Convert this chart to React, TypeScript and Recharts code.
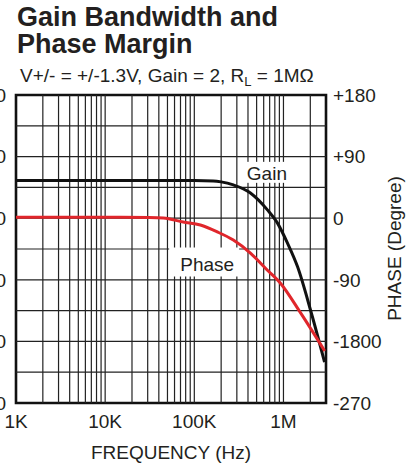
import React from 'react';
import { LineChart, Line, XAxis, YAxis, ReferenceLine, ReferenceArea, ReferenceDot } from 'recharts';

const FONT = '"Liberation Sans", Arial, Helvetica, sans-serif';
const INK = '#231f20';

// Gain (dB) curve
const gainFreq = [1000, 10000, 100000, 163000, 200000, 274000, 426000, 661000, 857000, 1110000, 1440000, 2010000, 2890000];
const gainDb = [32.2, 32.2, 32.2, 32.1, 31.8, 30.8, 28.2, 22.7, 18.4, 11.9, 4.2, -9.8, -26.7];

// Phase (degree) curve
const phaseFreq = [1000, 10000, 31000, 45000, 75000, 117000, 181000, 274000, 426000, 661000, 925000, 1550000, 2900000];
const phaseDeg = [1.5, 1.5, 1.0, 0.3, -5.6, -10, -20, -32, -51, -76, -95, -138, -194];

const freqTicks = [1000, 10000, 100000, 1000000];
const freqTickLabels = ['1K', '10K', '100K', '1M'];
const gridFreqs = [
  2000, 3000, 4000, 5000, 6000, 7000, 8000, 9000, 10000,
  20000, 30000, 40000, 50000, 60000, 70000, 80000, 90000, 100000,
  200000, 300000, 400000, 500000, 600000, 700000, 800000, 900000, 1000000,
  2000000,
];
const phaseTicks = [-270, -180, -90, 0, 90, 180];
const phaseTickLabels = ['-270', '-1800', '-90', '0', '+90', '+180'];
const phaseGrid = [-225, -180, -135, -90, -45, 0, 45, 90, 135];
const gainTicks = [-40, -20, 0, 20, 40, 60];

const gainData = gainFreq.map((f, i) => ({ f, v: gainDb[i] }));
const phaseData = phaseFreq.map((f, i) => ({ f, v: phaseDeg[i] }));

const boxLabel = (text: string, w: number, h: number, dx: number, dy: number) => (props: any) => {
  const { cx, cy } = props;
  return (
    <g>
      <rect x={cx - w / 2} y={cy - h / 2} width={w} height={h} fill="#fff" />
      <text x={cx + dx} y={cy + dy} textAnchor="middle" dominantBaseline="central" fontFamily={FONT} fontSize={19} fill={INK}>
        {text}
      </text>
    </g>
  );
};

export default function App() {
  return (
    <div style={{ position: 'absolute', left: 0, top: 0, width: 409, height: 465, background: '#fff', overflow: 'hidden', fontFamily: FONT, color: INK }}>
      <div style={{ position: 'absolute', left: 17, top: 4, fontSize: 27, lineHeight: '27px', fontWeight: 'bold', whiteSpace: 'nowrap' }}>
        Gain Bandwidth and<br />Phase Margin
      </div>
      <div style={{ position: 'absolute', left: 20, top: 66, fontSize: 19, lineHeight: '19px', whiteSpace: 'nowrap' }}>
        V+/- = +/-1.3V, Gain = 2, R<span style={{ fontSize: 13, position: 'relative', top: 4 }}>L</span> = 1MΩ
      </div>
      <div style={{ position: 'absolute', left: 0, top: 0 }}>
        <LineChart width={409} height={465} margin={{ top: 95, right: 0, bottom: 0, left: 0 }}>
          <XAxis
            dataKey="f"
            type="number"
            scale="log"
            domain={[1000, 3000000]}
            allowDataOverflow
            ticks={freqTicks}
            tickFormatter={(v: number) => freqTickLabels[freqTicks.indexOf(v)] ?? ''}
            height={62}
            axisLine={false}
            tickLine={false}
            tickSize={0}
            tickMargin={12}
            interval={0}
            tick={{ fontSize: 19, fill: INK, fontFamily: FONT }}
          />
          <YAxis
            yAxisId="gain"
            orientation="left"
            type="number"
            domain={[-40, 60]}
            ticks={gainTicks}
            width={16}
            axisLine={false}
            tickLine={false}
            tickSize={0}
            tickMargin={10}
            interval={0}
            tick={{ fontSize: 19, fill: INK, fontFamily: FONT }}
          />
          <YAxis
            yAxisId="phase"
            orientation="right"
            type="number"
            domain={[-270, 180]}
            ticks={phaseTicks}
            tickFormatter={(v: number) => phaseTickLabels[phaseTicks.indexOf(v)] ?? ''}
            width={83}
            axisLine={false}
            tickLine={false}
            tickSize={0}
            tickMargin={7}
            interval={0}
            tick={{ fontSize: 19, fill: INK, fontFamily: FONT, textAnchor: 'start' }}
          />
          {gridFreqs.map((f) => (
            <ReferenceLine key={'v' + f} x={f} yAxisId="phase" stroke="#222" strokeWidth={1.2} />
          ))}
          {phaseGrid.map((p) => (
            <ReferenceLine key={'h' + p} y={p} yAxisId="phase" stroke="#222" strokeWidth={1.2} />
          ))}
          <ReferenceArea x1={1000} x2={3000000} y1={-270} y2={180} yAxisId="phase" fill="none" fillOpacity={0} stroke="#111" strokeWidth={2.6} ifOverflow="visible" />
          <Line data={gainData} dataKey="v" yAxisId="gain" type="monotone" stroke="#111" strokeWidth={3} dot={false} isAnimationActive={false} />
          <Line data={phaseData} dataKey="v" yAxisId="phase" type="monotone" stroke="#e0262b" strokeWidth={3} dot={false} isAnimationActive={false} />
          <ReferenceDot x={705000} y={67} yAxisId="phase" r={0} shape={boxLabel('Gain', 57, 21, -3, 1)} ifOverflow="visible" />
          <ReferenceDot x={129000} y={-64} yAxisId="phase" r={0} shape={boxLabel('Phase', 70, 29, 3, 2)} ifOverflow="visible" />
        </LineChart>
      </div>
      <div style={{ position: 'absolute', left: 88, top: 443, width: 166, fontSize: 19, lineHeight: '19px', whiteSpace: 'nowrap', textAlign: 'center' }}>FREQUENCY (Hz)</div>
      <div style={{ position: 'absolute', left: 319, top: 238.5, width: 150, fontSize: 19, lineHeight: '19px', whiteSpace: 'nowrap', textAlign: 'center', transform: 'rotate(-90deg)', transformOrigin: '75px 9.5px' }}>PHASE (Degree)</div>
    </div>
  );
}
